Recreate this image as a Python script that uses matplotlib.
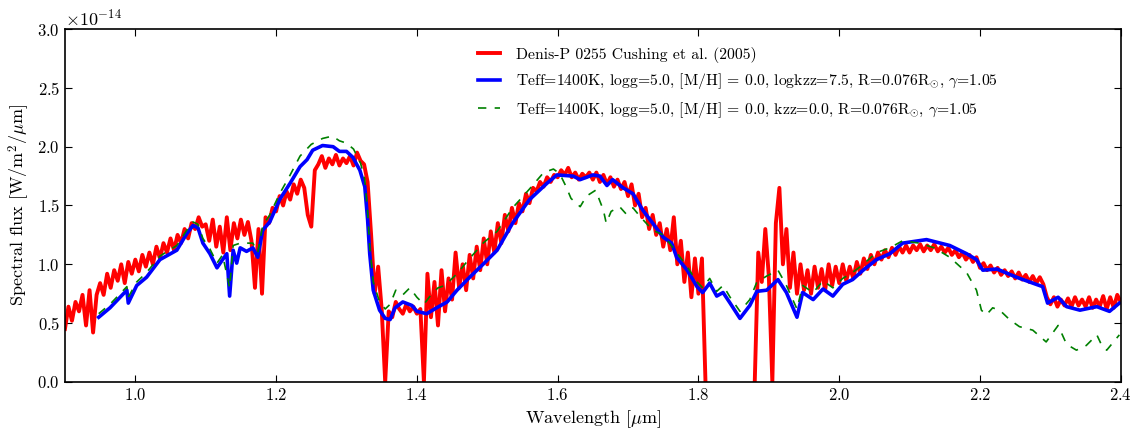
import numpy as np
import matplotlib
matplotlib.use("Agg")
import matplotlib.pyplot as plt

# Observed spectrum, sampled every 0.005 um from 0.90 to 2.40 (units of 1e-14 W/m2/um)
obs_flux = [
    0.45, 0.64, 0.52, 0.68, 0.60, 0.74, 0.48, 0.78, 0.42, 0.74,
    0.84, 0.74, 0.92, 0.80, 0.95, 0.86, 1.00, 0.84, 1.02, 0.92,
    1.04, 0.94, 1.08, 0.98, 1.10, 1.00, 1.15, 1.05, 1.18, 1.10,
    1.22, 1.12, 1.25, 1.18, 1.30, 1.22, 1.35, 1.30, 1.40, 1.32,
    1.34, 1.20, 1.38, 1.15, 1.32, 1.10, 1.40, 1.12, 1.35, 1.22,
    1.38, 1.25, 1.36, 1.20, 0.80, 1.30, 0.75, 1.40, 1.35, 1.48,
    1.45, 1.58, 1.50, 1.62, 1.55, 1.68, 1.60, 1.72, 1.65, 1.42,
    1.32, 1.80, 1.85, 1.92, 1.82, 1.90, 1.85, 1.93, 1.84, 1.90,
    1.86, 1.92, 1.84, 1.95, 1.88, 1.85, 1.70, 1.25, 0.75, 0.98,
    0.62, 0.00, 0.60, 0.55, 0.68, 0.62, 0.58, 0.66, 0.60, 0.64,
    0.58, 0.62, 0.00, 0.92, 0.55, 0.85, 0.48, 0.95, 0.60, 0.88,
    0.70, 1.10, 0.80, 1.00, 0.78, 1.08, 0.88, 1.15, 0.95, 1.22,
    1.00, 1.28, 1.10, 1.35, 1.18, 1.42, 1.28, 1.48, 1.35, 1.52,
    1.45, 1.60, 1.52, 1.65, 1.62, 1.70, 1.66, 1.74, 1.70, 1.76,
    1.74, 1.80, 1.76, 1.82, 1.74, 1.78, 1.72, 1.77, 1.74, 1.78,
    1.72, 1.78, 1.70, 1.76, 1.68, 1.74, 1.66, 1.72, 1.64, 1.70,
    1.58, 1.68, 1.50, 1.60, 1.40, 1.48, 1.30, 1.42, 1.25, 1.35,
    1.15, 1.30, 1.12, 1.40, 1.00, 1.20, 0.85, 1.10, 0.72, 1.05,
    0.75, 1.05, 0.00, np.nan, np.nan, np.nan, np.nan, np.nan, np.nan, np.nan,
    np.nan, np.nan, np.nan, np.nan, np.nan, np.nan, 0.00, 1.10, 0.85, 1.30,
    0.90, 0.00, 1.35, 1.65, 1.00, 1.30, 0.80, 1.10, 0.75, 1.00,
    0.78, 0.95, 0.75, 0.98, 0.80, 0.96, 0.78, 1.00, 0.82, 0.98,
    0.84, 1.00, 0.86, 0.98, 0.88, 1.02, 0.92, 1.05, 0.96, 1.08,
    1.00, 1.10, 1.04, 1.12, 1.06, 1.14, 1.08, 1.15, 1.10, 1.16,
    1.10, 1.16, 1.12, 1.17, 1.11, 1.16, 1.12, 1.17, 1.11, 1.15,
    1.10, 1.14, 1.08, 1.12, 1.06, 1.10, 1.04, 1.08, 1.02, 1.06,
    0.97, 1.01, 0.95, 0.99, 0.93, 0.97, 0.91, 0.95, 0.90, 0.94,
    0.88, 0.93, 0.87, 0.91, 0.85, 0.90, 0.84, 0.89, 0.83, 0.72,
    0.66, 0.72, 0.64, 0.70, 0.65, 0.71, 0.64, 0.72, 0.65, 0.70,
    0.64, 0.72, 0.63, 0.70, 0.64, 0.73, 0.62, 0.72, 0.63, 0.74,
    0.68,
]
obs_wave = np.linspace(0.90, 2.40, len(obs_flux))

# Model with logkzz=7.5
kzz_wave = [0.948, 0.964, 0.988, 0.990, 1.002, 1.016, 1.035, 1.059, 1.073, 1.082,
            1.089, 1.096, 1.106, 1.116, 1.124, 1.130, 1.134, 1.139, 1.144, 1.149,
            1.158, 1.167, 1.174, 1.181, 1.191, 1.205, 1.220, 1.234, 1.244, 1.252,
            1.266, 1.281, 1.290, 1.300, 1.309, 1.319, 1.326, 1.330, 1.333, 1.338,
            1.347, 1.355, 1.362, 1.369, 1.380, 1.393, 1.400, 1.414, 1.428, 1.443,
            1.457, 1.475, 1.494, 1.514, 1.536, 1.560, 1.585, 1.599, 1.622, 1.632,
            1.650, 1.660, 1.670, 1.678, 1.693, 1.707, 1.721, 1.735, 1.750, 1.762,
            1.769, 1.784, 1.798, 1.806, 1.816, 1.826, 1.835, 1.845, 1.859, 1.873,
            1.883, 1.897, 1.913, 1.925, 1.940, 1.948, 1.963, 1.977, 1.991, 2.005,
            2.019, 2.034, 2.053, 2.072, 2.090, 2.124, 2.157, 2.181, 2.195, 2.204,
            2.224, 2.252, 2.275, 2.289, 2.296, 2.311, 2.323, 2.342, 2.366, 2.384,
            2.398]
kzz_flux = [0.55, 0.63, 0.78, 0.67, 0.82, 0.89, 1.04, 1.12, 1.26, 1.33,
            1.31, 1.18, 1.09, 0.97, 1.04, 1.09, 0.73, 1.12, 1.01, 1.14,
            1.11, 1.14, 1.06, 1.29, 1.36, 1.55, 1.69, 1.83, 1.89, 1.97,
            2.01, 2.00, 1.96, 1.96, 1.91, 1.80, 1.66, 1.38, 1.09, 0.78,
            0.61, 0.54, 0.53, 0.63, 0.68, 0.65, 0.60, 0.58, 0.63, 0.68,
            0.78, 0.89, 1.00, 1.12, 1.35, 1.55, 1.69, 1.76, 1.75, 1.72,
            1.76, 1.75, 1.67, 1.72, 1.65, 1.60, 1.46, 1.35, 1.23, 1.18,
            1.06, 0.95, 0.81, 0.76, 0.84, 0.73, 0.76, 0.67, 0.54, 0.65,
            0.77, 0.78, 0.87, 0.76, 0.55, 0.76, 0.70, 0.79, 0.73, 0.83,
            0.87, 0.95, 1.04, 1.09, 1.18, 1.21, 1.16, 1.09, 1.04, 0.95,
            0.96, 0.89, 0.84, 0.81, 0.67, 0.72, 0.64, 0.61, 0.64, 0.60,
            0.67]

# Model with kzz=0.0
eq_wave = [0.948, 0.964, 0.988, 0.990, 1.002, 1.016, 1.035, 1.059, 1.073, 1.082,
           1.089, 1.096, 1.106, 1.116, 1.124, 1.134, 1.139, 1.149, 1.167, 1.174,
           1.181, 1.191, 1.205, 1.220, 1.234, 1.250, 1.266, 1.280, 1.290, 1.300,
           1.310, 1.320, 1.326, 1.330, 1.333, 1.338, 1.347, 1.355, 1.362, 1.370,
           1.380, 1.390, 1.400, 1.410, 1.420, 1.430, 1.440, 1.457, 1.475, 1.494,
           1.514, 1.536, 1.560, 1.580, 1.594, 1.603, 1.612, 1.619, 1.632, 1.641,
           1.654, 1.665, 1.669, 1.676, 1.688, 1.697, 1.707, 1.718, 1.735, 1.750,
           1.769, 1.784, 1.798, 1.806, 1.816, 1.826, 1.835, 1.845, 1.859, 1.873,
           1.883, 1.897, 1.913, 1.925, 1.940, 1.948, 1.963, 1.977, 1.991, 2.005,
           2.019, 2.034, 2.053, 2.072, 2.090, 2.114, 2.135, 2.157, 2.181, 2.195,
           2.202, 2.209, 2.218, 2.228, 2.242, 2.256, 2.275, 2.294, 2.311, 2.323,
           2.337, 2.351, 2.366, 2.373, 2.380, 2.398]
eq_flux = [0.58, 0.66, 0.81, 0.72, 0.85, 0.93, 1.07, 1.16, 1.29, 1.36,
           1.34, 1.22, 1.13, 1.01, 1.08, 0.80, 1.16, 1.18, 1.18, 1.10,
           1.33, 1.42, 1.60, 1.76, 1.92, 2.02, 2.07, 2.09, 2.05, 2.03,
           1.98, 1.86, 1.72, 1.45, 1.15, 0.85, 0.68, 0.62, 0.66, 0.78,
           0.74, 0.80, 0.72, 0.66, 0.74, 0.80, 0.82, 0.92, 1.05, 1.18,
           1.28, 1.48, 1.64, 1.78, 1.81, 1.77, 1.66, 1.56, 1.49, 1.58,
           1.63, 1.46, 1.35, 1.45, 1.49, 1.43, 1.48, 1.40, 1.29, 1.25,
           1.10, 0.98, 0.85, 0.80, 0.88, 0.77, 0.82, 0.72, 0.60, 0.70,
           0.85, 0.90, 0.95, 0.82, 0.62, 0.82, 0.76, 0.86, 0.80, 0.88,
           0.93, 1.00, 1.10, 1.14, 1.20, 1.18, 1.14, 1.06, 0.93, 0.78,
           0.61, 0.57, 0.63, 0.61, 0.53, 0.47, 0.44, 0.34, 0.48, 0.32,
           0.27, 0.31, 0.40, 0.31, 0.27, 0.40]

SCALE = 1e-14

plt.rcParams["font.family"] = "serif"
plt.rcParams["font.serif"] = ["cmr10"]
plt.rcParams["mathtext.fontset"] = "cm"
plt.rcParams["axes.formatter.use_mathtext"] = True
plt.rcParams["axes.unicode_minus"] = False

fig = plt.figure(figsize=(11.39, 4.34), dpi=100)
ax = fig.add_axes([0.057, 0.12, 0.927, 0.813])

ax.plot(obs_wave, np.array(obs_flux) * SCALE, color="red", lw=2.8,
        label="Denis-P 0255 Cushing et al. (2005)")
ax.plot(kzz_wave, np.array(kzz_flux) * SCALE, color="blue", lw=2.6,
        label=r"Teff=1400K, logg=5.0, [M/H] = 0.0, logkzz=7.5, R=0.076R$_{\odot}$, $\gamma$=1.05")
ax.plot(eq_wave, np.array(eq_flux) * SCALE, color="green", lw=1.2, ls=(0, (5, 5)),
        label=r"Teff=1400K, logg=5.0, [M/H] = 0.0, kzz=0.0, R=0.076R$_{\odot}$, $\gamma$=1.05")

ax.set_xlim(0.9, 2.4)
ax.set_ylim(0, 3.0e-14)
ax.set_xticks([1.0, 1.2, 1.4, 1.6, 1.8, 2.0, 2.2, 2.4])
ax.set_yticks(np.arange(0, 3.01, 0.5) * SCALE)
ax.tick_params(direction="in", top=True, right=True, length=5, labelsize=12)
for s in ax.spines.values():
    s.set_linewidth(1.2)
ax.yaxis.get_offset_text().set_fontsize(13)

ax.set_xlabel(r"Wavelength [$\mu$m]", fontsize=13)
ax.set_ylabel(r"Spectral flux [W/m$^2$/$\mu$m]", fontsize=13)

ax.legend(loc="upper left", bbox_to_anchor=(0.378, 0.99), frameon=False,
          fontsize=11.3, handlelength=1.4, handletextpad=1.0, labelspacing=0.55)

fig.savefig("out.png", dpi=100)
